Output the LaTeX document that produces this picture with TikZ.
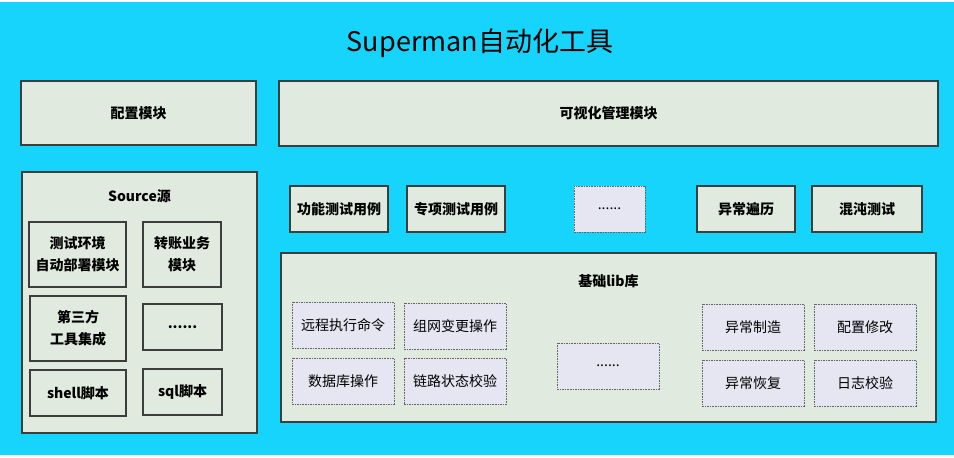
\documentclass[tikz,border=0pt]{standalone}
\usepackage{fontspec}
\setmainfont{Noto Sans CJK SC}
\definecolor{bgcyan}{HTML}{16D4FB}
\definecolor{boxfill}{HTML}{E0EADF}
\definecolor{lavfill}{HTML}{E6E6F2}
\definecolor{boxline}{HTML}{3A3F3D}
\tikzset{
  base/.style={inner sep=0pt, align=center, font=\bfseries\fontsize{14}{22}\selectfont, text=black},
  solidbox/.style={base, draw=boxline, line width=1.1pt, fill=boxfill},
  dashbox/.style={base, draw=boxline!80, line width=0.8pt, fill=lavfill, dash pattern=on 1.6pt off 1pt, font=\fontsize{14}{22}\selectfont},
  lbl/.style={inner sep=0pt, font=\bfseries\fontsize{14}{17}\selectfont}
}
\begin{document}
\begin{tikzpicture}[x=1pt,y=-1pt]
\useasboundingbox (0,0) rectangle (954,458);
\fill[white] (0,0) rectangle (954,458);
\fill[bgcyan] (0,1.5) rectangle (954,455);
\node[inner sep=0pt, font=\fontsize{27}{30}\selectfont] (title) at (480,43) {Superman自动化工具};
% top row
\node[solidbox, minimum width=235pt, minimum height=64pt] (cfg) at (138.5,113) {配置模块};
\node[solidbox, minimum width=659pt, minimum height=65pt] (vis) at (608.5,113.5) {可视化管理模块};
% source
\node[solidbox, minimum width=235pt, minimum height=261pt] (src) at (139.5,302.5) {};
\node[lbl] (srcl) at (139.5,196) {Source源};
\node[solidbox, minimum width=97pt, minimum height=65pt] (s1) at (77.5,254.5) {测试环境\\自动部署模块};
\node[solidbox, minimum width=78pt, minimum height=65pt] (s2) at (182,254.5) {转账业务\\模块};
\node[solidbox, minimum width=96pt, minimum height=65pt] (s3) at (78,328.5) {第三方\\工具集成};
\node[solidbox, minimum width=79pt, minimum height=46pt] (s4) at (182.5,327) {......};
\node[solidbox, minimum width=96pt, minimum height=46pt] (s5) at (78,393) {shell脚本};
\node[solidbox, minimum width=79pt, minimum height=46pt] (s6) at (182.5,392) {sql脚本};
% test row
\node[solidbox, minimum width=98pt, minimum height=46pt] (t1) at (339,209) {功能测试用例};
\node[solidbox, minimum width=98pt, minimum height=46pt] (t2) at (456,209) {专项测试用例};
\node[dashbox, minimum width=71pt, minimum height=46pt] (t3) at (609.5,209) {......};
\node[solidbox, minimum width=98pt, minimum height=46pt] (t4) at (746,209) {异常遍历};
\node[solidbox, minimum width=110pt, minimum height=46pt] (t5) at (867,209) {混沌测试};
% lib
\node[solidbox, minimum width=655pt, minimum height=169pt] (lib) at (608.5,337.5) {};
\node[lbl] (libl) at (608.5,281) {基础lib库};
\node[dashbox, minimum width=102pt, minimum height=46pt] (l1) at (343,325) {远程执行命令};
\node[dashbox, minimum width=102pt, minimum height=46pt] (l2) at (455,326) {组网变更操作};
\node[dashbox, minimum width=102pt, minimum height=46pt] (l3) at (343,381) {数据库操作};
\node[dashbox, minimum width=102pt, minimum height=46pt] (l4) at (455,381.5) {链路状态校验};
\node[dashbox, minimum width=102pt, minimum height=46pt] (l5) at (608,366) {......};
\node[dashbox, minimum width=102pt, minimum height=46pt] (r1) at (753,327) {异常制造};
\node[dashbox, minimum width=102pt, minimum height=46pt] (r2) at (865,327) {配置修改};
\node[dashbox, minimum width=102pt, minimum height=46pt] (r3) at (753,383) {异常恢复};
\node[dashbox, minimum width=102pt, minimum height=46pt] (r4) at (865,383) {日志校验};
\end{tikzpicture}
\end{document}
